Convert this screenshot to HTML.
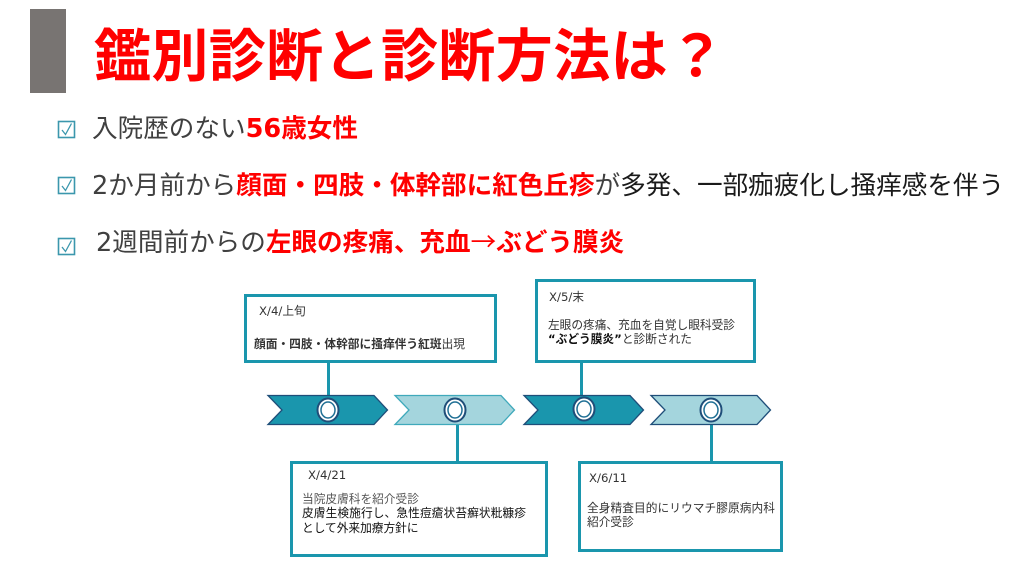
<!DOCTYPE html>
<html lang="ja"><head><meta charset="utf-8"><style>
html,body{margin:0;padding:0;background:#fff;width:1024px;height:576px;overflow:hidden}
svg{display:block}
text{font-family:"DejaVu Sans","Noto Sans CJK JP",sans-serif;white-space:pre}
.h{font-size:25.6px;fill:#404040;font-weight:400}
.r{fill:#f00;font-weight:700}
.k{fill:#1a1a1a}
.s{font-size:11.7px;fill:#333}
</style></head><body>
<svg width="1024" height="576" viewBox="0 0 1024 576" xmlns="http://www.w3.org/2000/svg">
<rect x="30" y="9" width="36" height="84" fill="#787472"/>
<text x="94" y="76" font-size="57" font-weight="700" fill="#f00" textLength="631">鑑別診断と診断方法は？</text>

<rect x="58.500" y="121.500" width="16" height="16" fill="none" stroke="#3b97ad" stroke-width="1.600"/>
<path d="M62 130l3.500 4.500 6-11" fill="none" stroke="#3b97ad" stroke-width="1.300"/>
<rect x="58.500" y="177.500" width="16" height="16" fill="none" stroke="#3b97ad" stroke-width="1.600"/>
<path d="M62 186l3.500 4.500 6-11" fill="none" stroke="#3b97ad" stroke-width="1.300"/>
<rect x="58.500" y="238.500" width="16" height="16" fill="none" stroke="#3b97ad" stroke-width="1.600"/>
<path d="M62 247l3.500 4.500 6-11" fill="none" stroke="#3b97ad" stroke-width="1.300"/>

<text class="h" x="92" y="137">入院歴のない<tspan class="r">56歳女性</tspan></text>
<text class="h" x="92" y="194">2か月前から<tspan class="r">顔面・四肢・体幹部に紅色丘疹</tspan>が<tspan class="k">多発、一部痂疲化し掻痒感を伴う</tspan></text>
<text class="h" x="96" y="251">2週間前からの<tspan class="r">左眼の疼痛、充血</tspan><tspan fill="#f00" style="font-family:'Noto Sans CJK JP',sans-serif;font-weight:400">→</tspan><tspan class="r">ぶどう膜炎</tspan></text>

<g fill="none" stroke="#1a96ad" stroke-width="3">
<path d="M328.500 362V396M581.500 362V396M457.500 424V461M711.500 424V461"/>
<rect x="245.500" y="295.500" width="250" height="66" fill="#fff"/>
<rect x="536.500" y="280.500" width="218" height="81" fill="#fff"/>
<rect x="291.500" y="462.500" width="255" height="93" fill="#fff"/>
<rect x="579.500" y="462.500" width="202" height="88" fill="#fff"/>
</g>

<g stroke-width="1.300">
<path d="M268 395.500H374L387.500 410 374 424.500H268L282 410Z" fill="#1a96ad" stroke="#1f4e79"/>
<path d="M395 395.500H501L514.500 410 501 424.500H395L409 410Z" fill="#a4d5dd" stroke="#3fa9bb"/>
<path d="M524 395.500H630L643.500 410 630 424.500H524L538 410Z" fill="#1a96ad" stroke="#1f4e79"/>
<path d="M651 395.500H757L770.500 410 757 424.500H651L665 410Z" fill="#a4d5dd" stroke="#1f4e79"/>
</g>
<g fill="#fff" stroke="#1f4e79" stroke-width="2">
<ellipse cx="328" cy="410" rx="10.500" ry="11.500"/>
<ellipse cx="455" cy="410" rx="10.500" ry="11.500"/>
<ellipse cx="584" cy="409" rx="10.500" ry="11.500"/>
<ellipse cx="711" cy="410" rx="10.500" ry="11.500"/>
</g>
<g fill="#fff" stroke="#1f6f94" stroke-width="1.500">
<ellipse cx="328" cy="410" rx="7" ry="8"/>
<ellipse cx="455" cy="410" rx="7" ry="8"/>
<ellipse cx="584" cy="409" rx="7" ry="8"/>
<ellipse cx="711" cy="410" rx="7" ry="8"/>
</g>

<text class="s" x="259" y="315">X/4/上旬</text>
<text class="s" x="254" y="348" textLength="211"><tspan font-weight="700">顔面・四肢・体幹部に掻痒伴う紅斑</tspan>出現</text>

<text class="s" x="549" y="301">X/5/末</text>
<text class="s" x="548" y="329" textLength="187">左眼の疼痛、充血を自覚し眼科受診</text>
<text class="s" x="548" y="343"><tspan font-weight="700" fill="#111">“ぶどう膜炎”</tspan>と診断された</text>

<text class="s" x="308" y="479">X/4/21</text>
<text class="s" x="302" y="503" style="fill:#555">当院皮膚科を紹介受診</text>
<text class="s" x="302" y="517" textLength="224" style="fill:#111">皮膚生検施行し、急性痘瘡状苔癬状粃糠疹</text>
<text class="s" x="302" y="532" style="fill:#111">として外来加療方針に</text>

<text class="s" x="589" y="482">X/6/11</text>
<text class="s" x="587" y="512" textLength="188">全身精査目的にリウマチ膠原病内科</text>
<text class="s" x="587" y="526">紹介受診</text>
</svg>
</body></html>
